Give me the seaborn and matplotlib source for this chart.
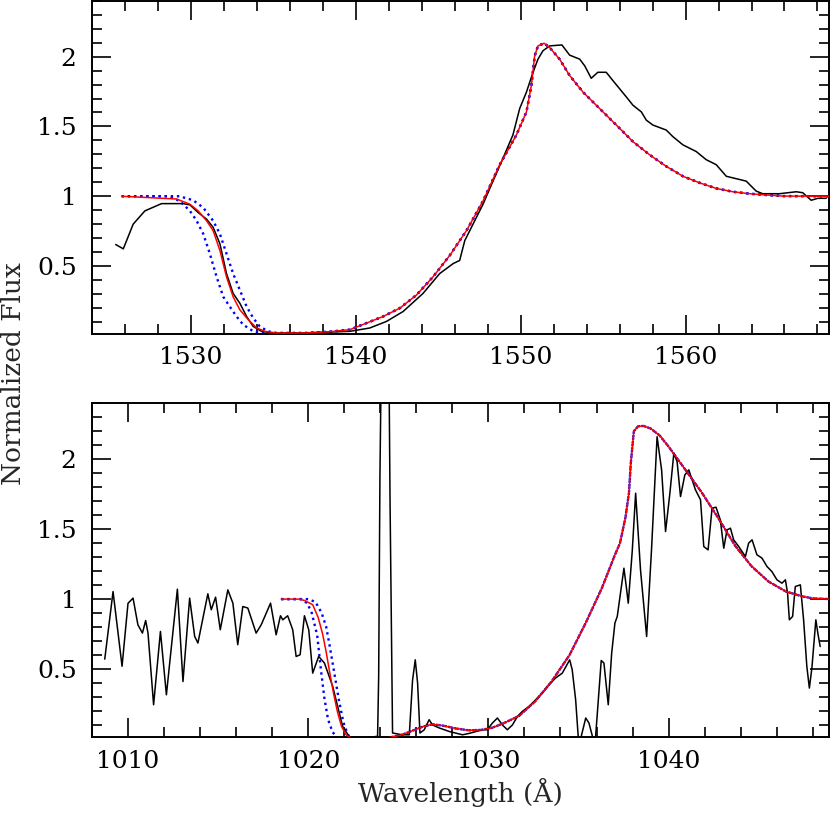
import matplotlib
matplotlib.use("Agg")
import matplotlib.pyplot as plt
import seaborn as sns
from matplotlib.ticker import MultipleLocator, FuncFormatter

# ---- top panel (C IV region) ----
top_obs_x = [1525.44, 1525.90, 1526.50, 1527.21, 1528.22, 1529.53, 1529.94, 1530.44, 1530.95, 1531.35,
             1531.76, 1532.16, 1532.56, 1532.97, 1533.38, 1533.78, 1534.28, 1534.99, 1536.5, 1538.0,
             1539.64, 1540.85, 1541.86, 1542.87, 1544.08, 1545.09, 1545.90, 1546.30, 1546.61, 1547.11,
             1547.72, 1548.32, 1548.93, 1549.53, 1549.94, 1550.35, 1550.75, 1551.05, 1551.35, 1551.76,
             1552.50, 1552.97, 1553.58, 1553.88, 1554.28, 1554.68, 1555.19, 1555.59, 1556.0, 1556.41,
             1556.81, 1557.32, 1557.62, 1558.02, 1558.83, 1559.23, 1559.84, 1560.65, 1561.25, 1561.86,
             1562.47, 1563.27, 1563.68, 1564.28, 1564.68, 1565.70, 1566.71, 1567.11, 1567.62, 1568.02,
             1568.53]
top_obs_y = [0.654, 0.623, 0.80, 0.895, 0.947, 0.947, 0.938, 0.883, 0.836, 0.777,
             0.659, 0.446, 0.304, 0.233, 0.138, 0.067, 0.032, 0.02, 0.02, 0.025,
             0.032, 0.056, 0.103, 0.174, 0.304, 0.446, 0.517, 0.54, 0.682, 0.80,
             0.943, 1.108, 1.273, 1.439, 1.628, 1.746, 1.888, 1.982, 2.042, 2.077,
             2.084, 2.011, 1.982, 1.935, 1.845, 1.888, 1.888, 1.829, 1.77, 1.711,
             1.652, 1.604, 1.545, 1.51, 1.474, 1.427, 1.368, 1.32, 1.262, 1.226,
             1.143, 1.12, 1.108, 1.037, 1.018, 1.018, 1.032, 1.025, 0.971, 0.985,
             0.985]

top_fit_x = [1525.8, 1529.13, 1529.94, 1530.44, 1530.95, 1531.35, 1531.76, 1532.16, 1532.56, 1532.97,
             1533.48, 1533.99, 1534.49, 1535.2, 1537.0, 1538.5, 1539.64, 1540.65, 1541.65, 1542.67,
             1543.68, 1544.68, 1545.70, 1546.71, 1547.72, 1548.73, 1549.74, 1550.35, 1550.65, 1550.85,
             1551.05, 1551.42, 1551.76, 1552.36, 1552.97, 1553.78, 1554.79, 1555.80, 1556.81, 1557.82,
             1558.83, 1559.84, 1560.85, 1561.86, 1562.87, 1563.88, 1564.89, 1565.90, 1568.73]
top_fit_y = [1.0, 0.98, 0.943, 0.895, 0.824, 0.753, 0.611, 0.422, 0.28, 0.186,
             0.115, 0.056, 0.032, 0.02, 0.02, 0.03, 0.044, 0.091, 0.138, 0.198,
             0.292, 0.422, 0.576, 0.753, 0.966, 1.226, 1.439, 1.604, 1.794, 2.006,
             2.077, 2.096, 2.065, 1.982, 1.865, 1.746, 1.628, 1.51, 1.391, 1.297,
             1.214, 1.143, 1.096, 1.056, 1.032, 1.018, 1.009, 1.001, 1.0]

top_blo_x = [1525.8, 1528.6, 1529.33, 1529.94, 1530.35, 1530.75, 1531.15, 1531.56, 1531.96, 1532.36,
             1532.77, 1533.17, 1533.78, 1534.5] + top_fit_x[13:]
top_blo_y = [1.0, 1.0, 0.966, 0.895, 0.824, 0.73, 0.588, 0.422, 0.28, 0.209,
             0.138, 0.08, 0.032, 0.02] + top_fit_y[13:]
top_bhi_x = [1525.8, 1529.3, 1530.14, 1530.75, 1531.35, 1531.76, 1532.16, 1532.56, 1532.97, 1533.38,
             1533.78, 1534.18, 1534.68, 1535.2] + top_fit_x[14:]
top_bhi_y = [1.0, 1.0, 0.971, 0.918, 0.824, 0.73, 0.588, 0.446, 0.328, 0.209,
             0.127, 0.067, 0.032, 0.02] + top_fit_y[14:]

# ---- bottom panel (O VI region) ----
bot_obs_x = [1008.71, 1009.17, 1009.67, 1010.0, 1010.28, 1010.55, 1010.80, 1010.98, 1011.11, 1011.42,
             1011.80, 1012.13, 1012.74, 1013.05, 1013.42, 1013.70, 1013.88, 1014.43, 1014.62, 1014.86,
             1015.12, 1015.54, 1015.82, 1016.09, 1016.37, 1016.65, 1017.11, 1017.39, 1017.91, 1018.22,
             1018.46, 1018.59, 1018.86, 1019.14, 1019.33, 1019.55, 1019.79, 1020.03, 1020.25, 1020.58,
             1020.90, 1021.36, 1021.91, 1022.28, 1022.8, 1023.4, 1023.85, 1023.91, 1023.98, 1024.1,
             1024.45, 1024.54, 1024.68, 1025.2, 1025.61, 1025.79, 1025.94, 1026.07, 1026.2, 1026.44,
             1026.71, 1026.9, 1027.27, 1027.82, 1028.56, 1028.93, 1029.67, 1029.94, 1030.22, 1030.50,
             1030.78, 1031.05, 1031.33, 1031.61, 1031.88, 1032.26, 1032.63, 1032.99, 1033.36, 1033.73,
             1034.10, 1034.51, 1034.65, 1034.84, 1035.02, 1035.40, 1035.58, 1035.91, 1036.26, 1036.41,
             1036.65, 1036.84, 1037.02, 1037.15, 1037.52, 1037.65, 1037.76, 1037.98, 1038.17, 1038.44,
             1038.78, 1039.05, 1039.36, 1039.61, 1039.83, 1040.07, 1040.29, 1040.47, 1040.66, 1040.90,
             1041.12, 1041.49, 1041.77, 1041.95, 1042.19, 1042.41, 1042.63, 1042.87, 1043.06, 1043.24,
             1043.43, 1043.61, 1043.89, 1044.26, 1044.44, 1044.63, 1044.90, 1045.18, 1045.46, 1045.73,
             1046.01, 1046.29, 1046.48, 1046.60, 1046.70, 1046.88, 1047.03, 1047.31, 1047.49, 1047.67,
             1047.81, 1047.95, 1048.17, 1048.28, 1048.41]
bot_obs_y = [0.571, 1.054, 0.52, 0.97, 1.007, 0.816, 0.757, 0.847, 0.757, 0.245,
             0.769, 0.316, 1.071, 0.411, 1.007, 0.733, 0.686, 1.038, 0.924, 1.014,
             0.781, 1.066, 0.971, 0.674, 0.947, 0.936, 0.757, 0.816, 0.971, 0.745,
             0.881, 0.852, 0.881, 0.781, 0.59, 0.602, 0.881, 0.781, 0.471, 0.59,
             0.543, 0.376, 0.09, 0.016, 0.01, 0.01, 0.02, 0.447, 1.876, 3.2,
             3.2, 1.71, 0.043, 0.03, 0.03, 0.42, 0.566, 0.40, 0.043, 0.066,
             0.138, 0.10, 0.079, 0.054, 0.03, 0.04, 0.066, 0.066, 0.114, 0.15,
             0.10, 0.066, 0.10, 0.161, 0.197, 0.233, 0.281, 0.329, 0.388, 0.436,
             0.471, 0.566, 0.495, 0.281, -0.05, 0.15, 0.114, -0.05, 0.561, 0.543,
             0.245, 0.614, 0.829, 0.876, 1.221, 1.09, 0.971, 1.34, 1.757, 1.209,
             0.733, 1.352, 2.161, 1.924, 1.483, 1.757, 2.043, 1.983, 1.733, 1.888,
             1.924, 1.781, 1.71, 1.376, 1.352, 1.65, 1.657, 1.566, 1.364, 1.495,
             1.507, 1.424, 1.376, 1.304, 1.40, 1.424, 1.317, 1.293, 1.233, 1.197,
             1.138, 1.114, 1.138, 1.043, 0.852, 0.876, 1.09, 1.102, 0.852, 0.519,
             0.364, 0.507, 0.852, 0.757, 0.661]

bot_fit_x = [1018.5, 1019.5, 1019.8, 1020.25, 1020.55, 1020.8, 1021.0, 1021.2, 1021.4, 1021.63,
             1021.85, 1022.1, 1022.4, 1023.5, 1024.5, 1025.2, 1025.8, 1026.4, 1026.9, 1027.5,
             1028.2, 1028.9, 1029.6, 1030.2, 1030.8, 1031.7, 1032.6, 1033.5, 1034.5, 1035.4,
             1036.3, 1037.0, 1037.3, 1037.6, 1037.8, 1037.9, 1038.07, 1038.3, 1038.6, 1039.0,
             1039.5, 1040.0, 1040.9, 1041.85, 1042.8, 1043.7, 1044.6, 1045.55, 1046.5, 1047.4,
             1048.0, 1049.0]
bot_fit_y = [1.0, 1.0, 0.99, 0.96, 0.87, 0.75, 0.62, 0.47, 0.33, 0.19,
             0.09, 0.03, 0.005, 0.0, 0.01, 0.03, 0.06, 0.09, 0.105, 0.095,
             0.075, 0.062, 0.065, 0.08, 0.11, 0.165, 0.27, 0.41, 0.6, 0.83,
             1.08, 1.31, 1.40, 1.58, 1.76, 1.97, 2.2, 2.235, 2.238, 2.22,
             2.17, 2.09, 1.93, 1.76, 1.57, 1.38, 1.235, 1.125, 1.055, 1.02,
             1.005, 1.0]

bot_blo_x = [1018.5, 1019.6, 1019.95, 1020.2, 1020.5, 1020.7, 1020.9, 1021.1, 1021.35, 1021.6,
             1022.0] + bot_fit_x[13:]
bot_blo_y = [1.0, 1.0, 0.97, 0.9, 0.74, 0.5, 0.29, 0.14, 0.05, 0.01,
             0.0] + bot_fit_y[13:]
bot_bhi_x = [1018.5, 1020.0, 1020.4, 1020.75, 1021.0, 1021.2, 1021.45, 1021.7, 1021.95, 1022.2,
             1022.5] + bot_fit_x[13:]
bot_bhi_y = [1.0, 1.0, 0.98, 0.9, 0.8, 0.66, 0.47, 0.28, 0.12, 0.03,
             0.0] + bot_fit_y[13:]

sns.set_style("ticks")
plt.rcParams["font.family"] = ["DejaVu Serif", "DejaVu Sans"]

fig = plt.figure(figsize=(8.3, 8.21), dpi=100)
ax_top = fig.add_axes([0.1108, 0.5932, 0.8880, 0.4058])
ax_bot = fig.add_axes([0.1108, 0.1021, 0.8880, 0.4067])

dotted = (0, (1.0, 1.6))
panels = [
    (ax_top, (1524.0, 1568.7), top_obs_x, top_obs_y, top_fit_x, top_fit_y,
     top_blo_x, top_blo_y, top_bhi_x, top_bhi_y),
    (ax_bot, (1008.0, 1048.9), bot_obs_x, bot_obs_y, bot_fit_x, bot_fit_y,
     bot_blo_x, bot_blo_y, bot_bhi_x, bot_bhi_y),
]

for ax, xlim, ox, oy, fx, fy, lx, ly, hx, hy in panels:
    sns.lineplot(x=ox, y=oy, ax=ax, color="black", lw=1.1, sort=False, estimator=None, zorder=3)
    sns.lineplot(x=lx, y=ly, ax=ax, color="blue", lw=1.7, linestyle=dotted, sort=False, estimator=None, zorder=2)
    sns.lineplot(x=hx, y=hy, ax=ax, color="blue", lw=1.7, linestyle=dotted, sort=False, estimator=None, zorder=2)
    sns.lineplot(x=fx, y=fy, ax=ax, color="red", lw=1.1, sort=False, estimator=None, zorder=4)
    ax.set_xlim(*xlim)
    ax.set_ylim(0.013, 2.4)
    ax.xaxis.set_major_locator(MultipleLocator(10))
    ax.xaxis.set_minor_locator(MultipleLocator(2))
    ax.yaxis.set_major_locator(MultipleLocator(0.5))
    ax.yaxis.set_minor_locator(MultipleLocator(0.1))
    ax.yaxis.set_major_formatter(FuncFormatter(lambda v, p: "%g" % v))
    ax.tick_params(which="both", direction="in", top=True, right=True, width=1.2, colors="black")
    ax.tick_params(which="major", length=14, labelsize=18)
    ax.tick_params(which="minor", length=7)
    ax.tick_params(axis="x", which="major", pad=9)
    ax.tick_params(axis="y", which="major", pad=11)
    for sp in ax.spines.values():
        sp.set_visible(True)
        sp.set_linewidth(1.4)
        sp.set_color("black")
    ax.set_xlabel("")
    ax.set_ylabel("")

fig.text(0.016, 0.545, "Normalized Flux", rotation=90, ha="center", va="center", fontsize=19)
fig.text(0.555, 0.035, "Wavelength (\u00c5)", ha="center", va="center", fontsize=19)

fig.savefig("out.png", dpi=100)
